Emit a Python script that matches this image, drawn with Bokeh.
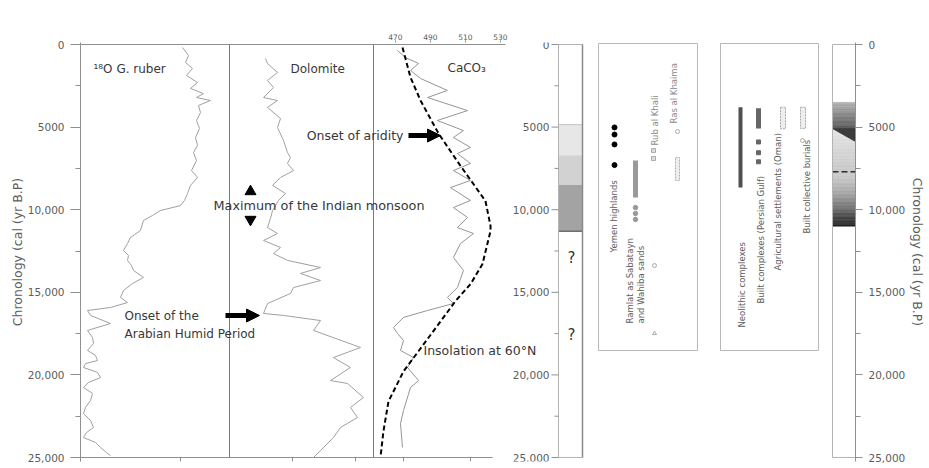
import numpy as np
from bokeh.plotting import figure
from bokeh.models import (Range1d, LinearAxis, FixedTicker, Label, LabelSet, Arrow,
                          NormalHead, ColumnDataSource, Title)
from bokeh.core.properties import value
from bokeh.embed import file_html
from bokeh.resources import INLINE

FONT = "DejaVu Sans"
TXT = "#383838"
GTXT = "#5c5c5c"
AX = "#909090"
CURVE = "#a0a0a0"

# ---------------- data ----------------
AGE_TICKS = [0, 5000, 10000, 15000, 20000, 25000]
AGE_TICK_LABELS = ["0", "5000", "10,000", "15,000", "20,000", "25,000"]
AGE_MINOR_TICKS = [2500, 7500, 12500, 17500, 22500]

D18O_AGE = [180, 670, 1090, 1450, 1880, 2300, 2660, 2970, 3210, 3390, 3690, 4120, 4600, 5080, 5630,
            6110, 6540, 7020, 7630, 8050, 8530, 9020, 9440, 9750, 10050, 10350, 10650, 11260, 11680,
            12050, 12470, 12770, 13070, 13380, 13680, 14100, 14470, 14890, 15310, 15620, 15920, 16100,
            16400, 16890, 17310, 17740, 18100, 18520, 18820, 19130, 19310, 19550, 19850, 20160, 20460,
            20760, 21120, 21550, 21970, 22340, 22760, 23180, 23490, 23790, 24090, 24390, 24700, 24880]
D18O_VAL = [-2.04, -2.16, -2.10, -2.24, -2.12, -2.34, -2.20, -2.46, -2.32, -2.60, -2.36, -2.40, -2.32,
            -2.38, -2.30, -2.34, -2.26, -2.32, -2.22, -2.34, -2.20, -2.14, -2.08, -2.00, -1.60, -1.44,
            -1.26, -1.20, -1.00, -0.94, -0.86, -0.96, -0.94, -1.02, -1.06, -1.26, -1.04, -0.86, -0.80,
            -0.94, -0.60, -0.14, -0.20, -0.60, -0.14, -0.24, -0.26, -0.14, -0.30, -0.34, -0.10, -0.06,
            -0.34, -0.40, -0.16, -0.06, -0.24, -0.20, -0.10, -0.06, -0.20, -0.26, -0.12, -0.06, -0.30,
            -0.40, -0.52, -0.60]
D18O_TICKS = [0, -2]

DOLO_AGE = [850, 1150, 1690, 2180, 2600, 3210, 3390, 3810, 4480, 5020, 5810, 6540, 6840, 7200, 7630,
            8050, 8530, 9020, 9440, 10050, 10530, 11080, 11440, 11860, 12290, 12650, 13070, 13500,
            13860, 14290, 14710, 15070, 15680, 16280, 16400, 16710, 17310, 18340, 18950, 19550, 20340,
            20520, 21370, 21970, 22580, 23180, 23790, 24580, 25000]
DOLO_VAL = [3.43, 3.62, 4.57, 3.62, 4.19, 3.24, 4.57, 3.62, 4.86, 4.57, 5.14, 5.52, 5.81, 5.52, 6.10,
            4.86, 4.10, 5.33, 4.67, 4.10, 3.90, 3.62, 4.57, 3.24, 4.86, 4.19, 5.52, 8.67, 6.76, 8.67,
            6.10, 5.81, 3.62, 3.24, 5.14, 8.67, 8.00, 12.48, 9.90, 11.52, 9.62, 11.24, 12.76, 11.52,
            12.19, 10.57, 9.90, 8.67, 8.00]
DOLO_TICKS = [6, 12]

CACO3_AGE = [360, 790, 1150, 1570, 2060, 2780, 3210, 4000, 4600, 5210, 5630, 6230, 6600, 7200, 7630,
             8230, 8660, 9440, 9870, 10470, 11080, 11440, 12050, 12890, 13680, 14710, 15310, 15680,
             16100, 16520, 17130, 17490, 17920, 18520, 18950, 19550, 20340, 20760, 22150, 22940, 24390]
CACO3_VAL = [28.2, 30.6, 34.5, 32.1, 35.1, 43.1, 37.2, 49.1, 40.1, 47.9, 44.9, 50.0, 46.1, 50.0, 44.9,
             50.0, 44.0, 50.0, 44.9, 49.1, 46.1, 50.9, 47.0, 44.9, 47.9, 46.1, 43.1, 44.9, 37.2, 30.0,
             27.0, 28.2, 30.0, 29.1, 33.0, 31.2, 34.5, 32.1, 30.0, 29.1, 29.7]
CACO3_TICKS = [30, 50]

INSOL_AGE = [180, 2000, 3390, 5390, 7340, 9470, 10980, 11290, 13290, 14500, 15530, 17170, 18570, 19780,
             21600, 23420, 25000]
INSOL_VAL = [474.0, 478.6, 484.3, 494.6, 507.1, 521.4, 524.3, 524.3, 519.7, 512.9, 504.3, 492.9, 483.1,
             474.6, 466.0, 463.1, 461.4]
INSOL_TICKS = [470, 490, 510, 530]

# Paleolake extension bands (ages)
LAKE_TOP = [4850, 6700, 8500]
LAKE_BOTTOM = [6700, 8500, 11300]
LAKE_COLORS = ["#e7e7e7", "#d2d2d2", "#a3a3a3"]
LAKE_QUESTION_AGES = [12950, 17600]

# Paleolake legend box
YEMEN_AGES = [5020, 5450, 6050, 7300]
RAMLAT_BAR = [7020, 9260]
RAMLAT_DOTS = [9870, 10230, 10590]
RUB_SQUARES = [6420, 6900]
RUB_OTHER_CIRCLE = [13380]
RUB_OTHER_TRI = [17490]
RAS_CIRCLE = [5270]
RAS_BAR = [6840, 8230]

# Human settlement legend box
NEOLITHIC_BAR = [3800, 8650]
BUILT_BAR = [3860, 5080]
BUILT_DOTS = [5900, 6550, 7100]
AGRI_BAR = [3800, 5100]
BURIAL_BAR = [3800, 5080]
BURIAL_CIRCLE = [5810]

# Human settlement column (ages)
SETTLE_START = 3500
SETTLE_DIAG = [5080, 5870]
SETTLE_DASH = 7700
SETTLE_END = 11000

AXIS_TITLE = "Chronology (cal (yr B.P)"

# ---------------- layout (page pixels) ----------------
FRAME_L, FRAME_R = 80, 855
Y0_PX, Y1_PX = 44, 457          # page y of age 0 and 25000
YR_PER_PX = 25000 / (Y1_PX - Y0_PX)


def age_at(py):
    return (py - Y0_PX) * YR_PER_PX


def data_range(px0, v0, px_per_unit):
    return Range1d(start=v0 + (FRAME_L - px0) / px_per_unit, end=v0 + (FRAME_R - px0) / px_per_unit)


p = figure(width=929, height=468, x_range=Range1d(FRAME_L, FRAME_R),
           y_range=Range1d(age_at(461), age_at(42)),
           x_axis_location=None, y_axis_location="left",
           toolbar_location=None, output_backend="svg",
           min_border_left=FRAME_L, min_border_right=929 - FRAME_R, min_border_top=42, min_border_bottom=7)
p.outline_line_color = None
p.grid.grid_line_color = None
p.background_fill_color = "white"

p.extra_x_ranges = {
    "d18o": data_range(80, 0.0, -50.0),
    "dolo": data_range(229, 0.0, 10.5),
    "caco3": data_range(403, 30.0, 3.35),
    "insol": data_range(395, 470.0, 1.75),
}


def style_age_axis(ax):
    ax.ticker = FixedTicker(ticks=AGE_TICKS, minor_ticks=AGE_MINOR_TICKS)
    ax.major_label_overrides = {t: l for t, l in zip(AGE_TICKS, AGE_TICK_LABELS)}
    ax.axis_line_color = AX
    ax.major_tick_line_color = AX
    ax.minor_tick_line_color = AX
    ax.major_tick_in = 0
    ax.minor_tick_in = 0
    ax.minor_tick_out = 5
    ax.major_label_text_font = FONT
    ax.major_label_text_font_size = "10.5px"
    ax.major_label_text_color = GTXT


yl = p.yaxis[0]
style_age_axis(yl)
yl.major_tick_out = 10
yl.major_label_standoff = 6
yl.axis_label = AXIS_TITLE
yl.axis_label_text_font = FONT
yl.axis_label_text_font_size = "12.5px"
yl.axis_label_text_font_style = "normal"
yl.axis_label_text_color = GTXT
yl.axis_label_standoff = 0

yr = LinearAxis()
style_age_axis(yr)
yr.major_tick_out = 7
yr.major_label_standoff = 6
p.add_layout(yr, "right")
p.add_layout(Title(text=AXIS_TITLE, align="center", text_font=FONT, text_font_size="12.5px",
                   text_font_style="normal", text_color=GTXT, standoff=2), "right")

top = LinearAxis(x_range_name="insol", ticker=FixedTicker(ticks=INSOL_TICKS, minor_ticks=[]))
top.axis_line_color = None
top.major_tick_line_color = AX
top.major_tick_out = 2
top.major_tick_in = 0
top.minor_tick_out = 0
top.major_label_standoff = 1
top.major_label_text_font = FONT
top.major_label_text_font_size = "7.5px"
top.major_label_text_color = GTXT
p.add_layout(top, "above")

# ---------------- main 74KL panel frame ----------------
p.segment(x0=[80], x1=[505], y0=[0], y1=[0], line_color=AX, line_width=1)
p.segment(x0=[80], x1=[492], y0=[25000], y1=[25000], line_color=AX, line_width=1)
p.segment(x0=[229, 373], x1=[229, 373], y0=[0, 0], y1=[25000, 25000], line_color="#7a7a7a", line_width=1)

tick_len = 4 * YR_PER_PX
for name, ticks in (("d18o", D18O_TICKS), ("dolo", DOLO_TICKS), ("caco3", CACO3_TICKS)):
    p.segment(x0=ticks, x1=ticks, y0=[25000] * len(ticks), y1=[25000 + tick_len] * len(ticks),
              line_color=AX, x_range_name=name)

# curves
p.line(D18O_VAL, D18O_AGE, x_range_name="d18o", line_color=CURVE, line_width=1)
p.line(DOLO_VAL, DOLO_AGE, x_range_name="dolo", line_color=CURVE, line_width=1)
p.line(CACO3_VAL, CACO3_AGE, x_range_name="caco3", line_color="#959595", line_width=1)
p.line(INSOL_VAL, INSOL_AGE, x_range_name="insol", line_color="black", line_width=2, line_dash="5 3")


def txt(x, y, s, size, color=TXT, align="left", baseline="middle", angle=0.0):
    p.text(x=[x], y=[y], text=[s], angle=angle, text_font=value(FONT), text_font_size=size,
           text_color=color, text_align=align, text_baseline=baseline)


def lab(x, y, s, size, color=TXT, align="left", angle=0.0):
    p.add_layout(Label(x=x, y=y, text=s, text_font=FONT, text_font_size=size, text_color=color,
                       text_align=align, text_baseline="middle", angle=angle))


# titles
lab(90, age_at(20), "74KL (Sirocko et al., 1998)", "12px", GTXT)
lab(560, age_at(22), "Paleolake extentions", "12px", GTXT)
lab(722, age_at(22), "Types of Human settlements", "12px", GTXT)
lab(506, age_at(37), "W m-2", "7.5px", GTXT)

# panel names
txt(93, age_at(68), "¹⁸O  G. ruber", "12px")
txt(290, age_at(68), "Dolomite", "12px")
txt(447, age_at(67), "CaCO₃", "12px")

# annotations
txt(403, age_at(135), "Onset of aridity", "12.5px", align="right")
p.add_layout(Arrow(end=NormalHead(size=13, fill_color="black", line_color="black"),
                   x_start=408, y_start=age_at(135), x_end=440, y_end=age_at(135),
                   line_width=5, line_color="black"))
txt(213, age_at(205), "Maximum of the Indian monsoon", "12.8px")
p.scatter([250], [age_at(191)], marker="triangle", size=11, color="black")
p.scatter([250], [age_at(219)], marker="inverted_triangle", size=11, color="black")
txt(124, age_at(315), "Onset of the", "12px")
txt(124, age_at(333), "Arabian Humid Period", "12px")
p.add_layout(Arrow(end=NormalHead(size=13, fill_color="black", line_color="black"),
                   x_start=225, y_start=age_at(315), x_end=259, y_end=age_at(315),
                   line_width=5, line_color="black"))
txt(423, age_at(350), "Insolation at 60°N", "12.5px")

# ---------------- Paleolake column ----------------
p.quad(left=[558] * 3, right=[582] * 3, top=LAKE_TOP, bottom=LAKE_BOTTOM, fill_color=LAKE_COLORS,
       line_color=None)
p.segment(x0=[558], x1=[582], y0=[LAKE_TOP[0]], y1=[LAKE_TOP[0]], line_color="#c4c4c4")
p.segment(x0=[558], x1=[582], y0=[LAKE_BOTTOM[-1]], y1=[LAKE_BOTTOM[-1]], line_color="#6e6e6e", line_width=1.5)
p.quad(left=[558], right=[582], top=[0], bottom=[25000], fill_color=None, line_color="#b4b4b4")
p.segment(x0=[582], x1=[582], y0=[0], y1=[25000], line_color="#8a8a8a", line_width=1.5)
for a in LAKE_QUESTION_AGES:
    txt(571, a, "?", "15px", "#333333", align="center")

# left axis of paleolake column
p.segment(x0=[551] * len(AGE_TICKS), x1=[558] * len(AGE_TICKS), y0=AGE_TICKS, y1=AGE_TICKS, line_color=AX)
p.segment(x0=[554] * len(AGE_MINOR_TICKS), x1=[558] * len(AGE_MINOR_TICKS), y0=AGE_MINOR_TICKS,
          y1=AGE_MINOR_TICKS, line_color=AX)
p.add_layout(LabelSet(x="x", y="y", text="t",
                      source=ColumnDataSource(dict(x=[549] * len(AGE_TICKS), y=AGE_TICKS, t=AGE_TICK_LABELS)),
                      text_font=value(FONT), text_font_size="10.5px", text_color=GTXT,
                      text_align="right", text_baseline="middle"))

# ---------------- legend boxes ----------------
BOX_BOTTOM = age_at(350)
p.quad(left=[598, 720], right=[697, 818], top=[age_at(43)] * 2, bottom=[BOX_BOTTOM] * 2,
       fill_color="white", line_color="#b8b8b8", line_width=1)

p.scatter([614] * len(YEMEN_AGES), YEMEN_AGES, size=5, color="black")
txt(613, age_at(252), "Yemen highlands", "8.5px", GTXT, angle=np.pi / 2)

p.segment(x0=[635], x1=[635], y0=[RAMLAT_BAR[0]], y1=[RAMLAT_BAR[1]], line_color="#9a9a9a", line_width=5)
p.scatter([635] * len(RAMLAT_DOTS), RAMLAT_DOTS, size=4.5, color="#9a9a9a")
txt(629, age_at(323), "Ramlat as Sabatayn", "8.5px", GTXT, angle=np.pi / 2)
txt(640, age_at(323), "and Wahiba sands", "8.5px", GTXT, angle=np.pi / 2)

p.scatter([653] * len(RUB_SQUARES), RUB_SQUARES, marker="square", size=4, fill_color="#dddddd",
          line_color="#aaaaaa")
p.scatter([654], RUB_OTHER_CIRCLE, marker="circle", size=4, fill_color=None, line_color="#aaaaaa")
p.scatter([654], RUB_OTHER_TRI, marker="triangle", size=4, fill_color=None, line_color="#aaaaaa")
txt(654, age_at(145), "Rub al Khali", "8.5px", "#8a8a8a", angle=np.pi / 2)

p.scatter([677], RAS_CIRCLE, marker="circle", size=4, fill_color=None, line_color="#aaaaaa")
p.quad(left=[675], right=[679], top=[RAS_BAR[0]], bottom=[RAS_BAR[1]], fill_color="#eeeeee",
       line_color="#b0b0b0", line_dash="2 1")
txt(673, age_at(123), "Ras al Khaima", "8.5px", "#8a8a8a", angle=np.pi / 2)

p.segment(x0=[740], x1=[740], y0=[NEOLITHIC_BAR[0]], y1=[NEOLITHIC_BAR[1]], line_color="#505050", line_width=4)
txt(741, age_at(327), "Neolithic complexes", "8.5px", GTXT, angle=np.pi / 2)

p.segment(x0=[758], x1=[758], y0=[BUILT_BAR[0]], y1=[BUILT_BAR[1]], line_color="#666666", line_width=5)
p.scatter([758] * len(BUILT_DOTS), BUILT_DOTS, marker="square", size=4, color="#666666")
txt(760, age_at(303), "Built complexes (Persian Gulf)", "8.5px", GTXT, angle=np.pi / 2)

p.quad(left=[780], right=[785], top=[AGRI_BAR[0]], bottom=[AGRI_BAR[1]], fill_color="#eeeeee",
       line_color="#a8a8a8", line_dash="2 1")
txt(777, age_at(270), "Agricultural settlements (Oman)", "8.5px", GTXT, angle=np.pi / 2)

p.quad(left=[800], right=[805], top=[BURIAL_BAR[0]], bottom=[BURIAL_BAR[1]], fill_color="#eeeeee",
       line_color="#a8a8a8", line_dash="2 1")
p.scatter([802], BURIAL_CIRCLE, marker="circle", size=4, fill_color=None, line_color="#aaaaaa")
txt(806, age_at(233), "Built collective burials", "8.5px", GTXT, angle=np.pi / 2)

# ---------------- Human settlement column (gradient) ----------------
CL, CR = 832, 855


def grad(a0, a1, c0, c1, n, power=1.0):
    edges = np.linspace(a0, a1, n + 1)
    t = (np.arange(n) + 0.5) / n
    t = t ** power
    g = (c0 + (c1 - c0) * t).astype(int)
    cols = ["#%02x%02x%02x" % (v, v, v) for v in g]
    p.quad(left=[CL] * n, right=[CR] * n, top=edges[:-1], bottom=edges[1:], fill_color=cols,
           line_color=cols, line_width=0.5)


grad(SETTLE_START, SETTLE_DIAG[0], 0xb4, 0x5a, 20)
grad(SETTLE_DIAG[0], SETTLE_DASH, 0xe6, 0xc8, 30)
grad(SETTLE_DASH, SETTLE_END, 0xcc, 0x1e, 40, power=1.6)
p.patch([CL, CR, CR], [SETTLE_DIAG[0], SETTLE_DIAG[0], SETTLE_DIAG[1]], fill_color="#3c3c3c",
        line_color="#3c3c3c")
p.segment(x0=[CL], x1=[CR], y0=[SETTLE_DASH], y1=[SETTLE_DASH], line_color="#2a2a2a", line_width=1.5,
          line_dash="6 3")
p.quad(left=[CL], right=[CR], top=[0], bottom=[25000], fill_color=None, line_color="#b4b4b4")

open("out.html", "w").write(file_html(p, INLINE))
